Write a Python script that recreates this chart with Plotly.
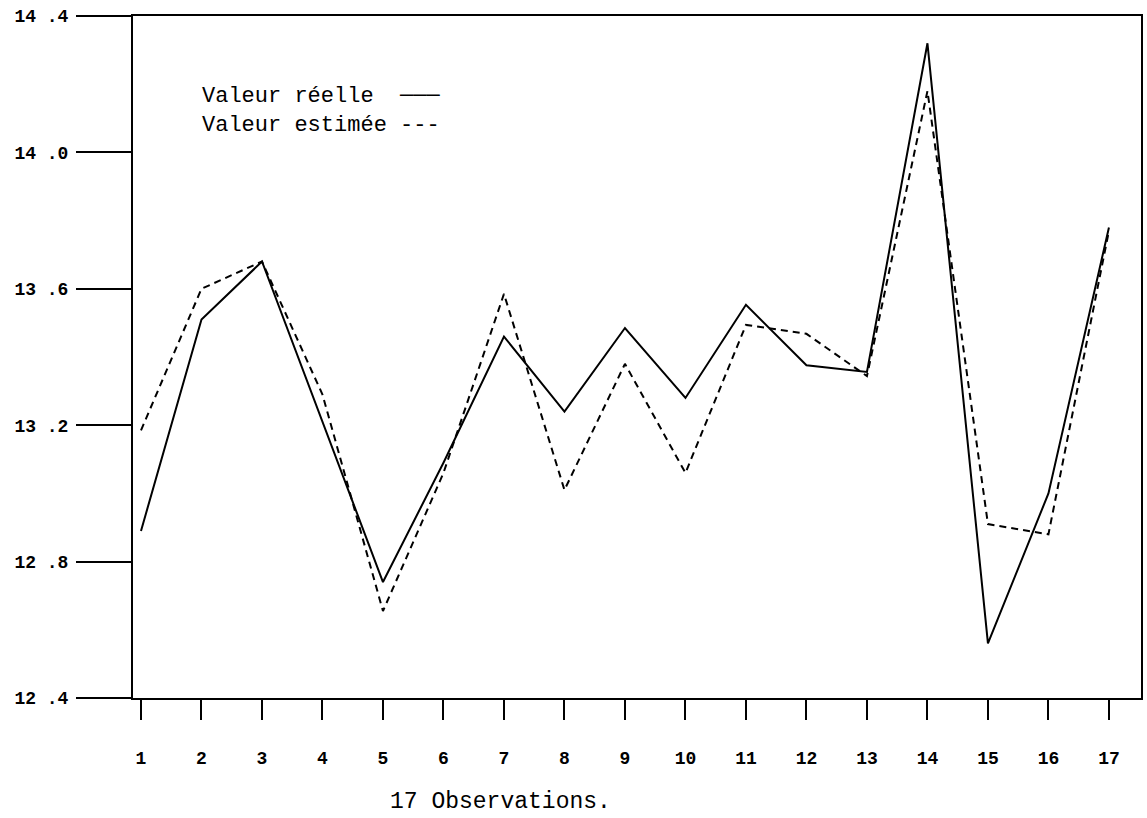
import plotly.graph_objects as go

observations = list(range(1, 18))
valeur_reelle = [12.89, 13.51, 13.68, 13.21, 12.74, 13.09, 13.46, 13.24, 13.485,
                 13.28, 13.553, 13.376, 13.356, 14.32, 12.56, 13.00, 13.78]
valeur_estimee = [13.185, 13.60, 13.68, 13.29, 12.655, 13.06, 13.585, 13.01, 13.38,
                  13.06, 13.494, 13.468, 13.344, 14.18, 12.91, 12.88, 13.77]

y_tickvals = [12.4, 12.8, 13.2, 13.6, 14.0, 14.4]
y_ticktext = ["12 .4", "12 .8", "13 .2", "13 .6", "14 .0", "14 .4"]
x_ticktext = [str(i) for i in observations]

legend_lines = ["Valeur réelle  ───", "Valeur estimée ---"]
x_title = "17 Observations."

MONO = "Liberation Mono, DejaVu Sans Mono, monospace"

fig = go.Figure()
fig.add_trace(go.Scatter(x=observations, y=valeur_reelle, mode="lines",
                         line=dict(color="black", width=2), name="Valeur réelle",
                         showlegend=False))
fig.add_trace(go.Scatter(x=observations, y=valeur_estimee, mode="lines",
                         line=dict(color="black", width=2, dash="7px,5px"),
                         name="Valeur estimée", showlegend=False))

fig.update_layout(
    width=1147, height=818, autosize=False,
    margin=dict(l=133, r=4, t=16, b=120),
    paper_bgcolor="white", plot_bgcolor="white",
    font=dict(family=MONO, color="black"),
)

fig.update_xaxes(
    range=[0.868, 17.53], tickmode="array", tickvals=observations, ticktext=x_ticktext,
    showline=True, linecolor="black", linewidth=2, mirror=True,
    ticks="outside", ticklen=20, tickwidth=2, tickcolor="black",
    ticklabelstandoff=22,
    tickfont=dict(family=MONO, size=18, color="black", weight="bold"),
    showgrid=False, zeroline=False,
)
fig.update_yaxes(
    range=[12.4, 14.4], tickmode="array", tickvals=y_tickvals, ticktext=y_ticktext,
    showline=True, linecolor="black", linewidth=2, mirror=True,
    ticks="outside", ticklen=55, tickwidth=2, tickcolor="black",
    ticklabelstandoff=4,
    tickfont=dict(family=MONO, size=18, color="black", weight="bold"),
    showgrid=False, zeroline=False,
)

fig.add_annotation(text="<br>".join(legend_lines), xref="paper", yref="paper",
                   x=0.066, y=0.860, xanchor="left", yanchor="middle", align="left",
                   showarrow=False,
                   font=dict(family=MONO, size=22, color="black"))
fig.add_annotation(text=x_title, xref="paper", yref="paper",
                   x=0.365, y=-0.1745, xanchor="center", yanchor="bottom", showarrow=False,
                   font=dict(family=MONO, size=23, color="black"))

fig.write_html("out.html")
